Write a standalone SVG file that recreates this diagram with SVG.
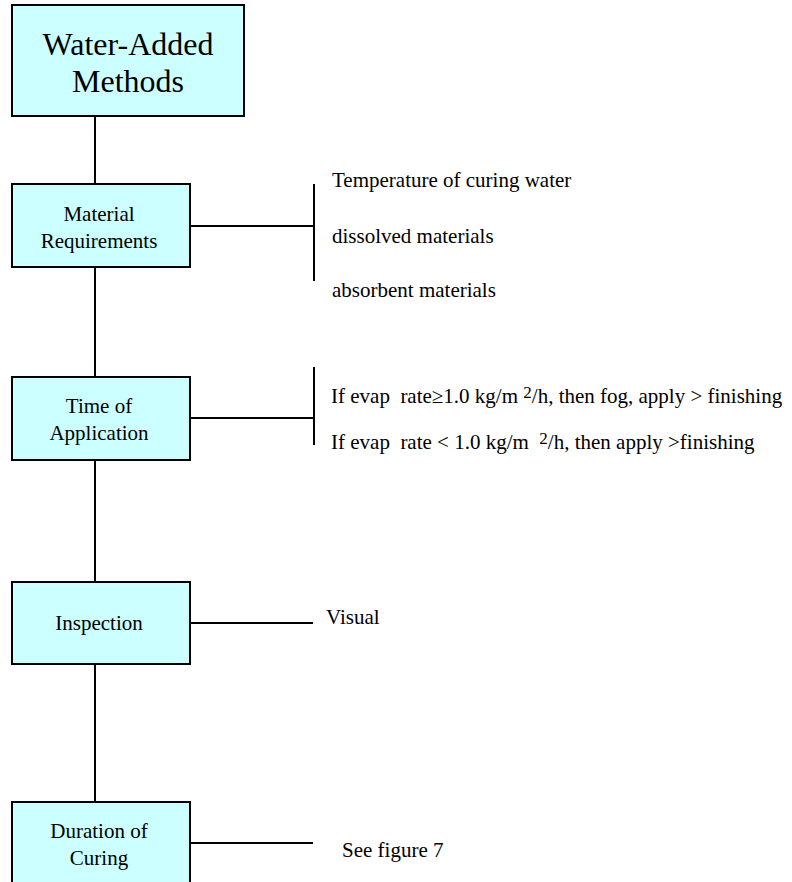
<svg xmlns="http://www.w3.org/2000/svg" width="792" height="882" viewBox="0 0 792 882">
<style>
  .box { fill: #CCFFFF; stroke: #000; stroke-width: 2; }
  .ln { stroke: #000; stroke-width: 2; fill: none; }
  text { font-family: "Liberation Serif", "Times New Roman", serif; fill: #000; }
  .nt { font-size: 21px; text-anchor: middle; }
  .tt { font-size: 32px; text-anchor: middle; }
  .rt { font-size: 21px; white-space: pre; }
</style>
<rect width="792" height="882" fill="#fff"/>
<g id="connectors">
  <line class="ln" x1="95" y1="117" x2="95" y2="184"/>
  <line class="ln" x1="95" y1="267" x2="95" y2="377"/>
  <line class="ln" x1="95" y1="460" x2="95" y2="582"/>
  <line class="ln" x1="95" y1="664" x2="95" y2="802"/>
  <line class="ln" x1="190" y1="226" x2="314" y2="226"/>
  <line class="ln" x1="314" y1="184" x2="314" y2="281"/>
  <line class="ln" x1="190" y1="418" x2="314" y2="418"/>
  <line class="ln" x1="314" y1="367" x2="314" y2="445"/>
  <line class="ln" x1="190" y1="623" x2="313" y2="623"/>
  <line class="ln" x1="190" y1="843" x2="313" y2="843"/>
</g>
<g id="water-added">
  <rect class="box" x="12" y="5" width="232" height="111"/>
  <text class="tt" x="128" y="55">Water-Added</text>
  <text class="tt" x="128" y="92">Methods</text>
</g>
<g id="material">
  <rect class="box" x="12" y="184" width="178" height="83"/>
  <text class="nt" x="99" y="221">Material</text>
  <text class="nt" x="99" y="248">Requirements</text>
</g>
<g id="material-items">
  <text class="rt" x="332" y="187">Temperature of curing water</text>
  <text class="rt" x="332" y="243">dissolved materials</text>
  <text class="rt" x="332" y="297">absorbent materials</text>
</g>
<g id="time">
  <rect class="box" x="12" y="377" width="178" height="83"/>
  <text class="nt" x="99" y="413">Time of</text>
  <text class="nt" x="99" y="440">Application</text>
</g>
<g id="time-items">
  <text class="rt" x="331" y="403">If evap  rate≥1.0 kg/m <tspan font-size="17" dy="-5">2</tspan><tspan dy="5">/h, then fog, apply &gt; finishing</tspan></text>
  <text class="rt" x="331" y="449">If evap  rate &lt; 1.0 kg/m  <tspan font-size="17" dy="-5">2</tspan><tspan dy="5">/h, then apply &gt;finishing</tspan></text>
</g>
<g id="inspection">
  <rect class="box" x="12" y="582" width="178" height="82"/>
  <text class="nt" x="99" y="630">Inspection</text>
</g>
<g id="inspection-items">
  <text class="rt" x="326" y="624">Visual</text>
</g>
<g id="duration">
  <rect class="box" x="12" y="802" width="178" height="90"/>
  <text class="nt" x="99" y="838">Duration of</text>
  <text class="nt" x="99" y="865">Curing</text>
</g>
<g id="duration-items">
  <text class="rt" x="342" y="857">See figure 7</text>
</g>
</svg>
